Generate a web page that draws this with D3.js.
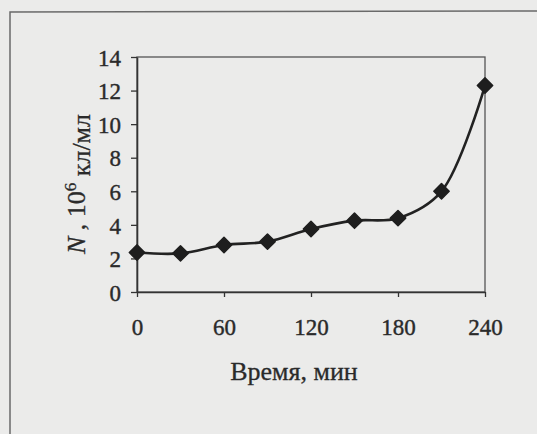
<!DOCTYPE html>
<html>
<head>
<meta charset="utf-8">
<script src="https://cdn.jsdelivr.net/npm/d3@7"></script>
<style>
    body { margin: 0; background: #ebebea; }
    #chart { width: 537px; height: 434px; }
    text { font-family: "Liberation Serif", "DejaVu Serif", serif; fill: #2a2a2a; }
</style>
</head>
<body>
<div id="chart"></div>
<script>
// время отбора проб, мин
var times = [0, 30, 60, 90, 120, 150, 180, 210, 240]
// N, 10^6 кл/мл
var counts = [2.35, 2.3, 2.8, 3.0, 3.75, 4.25, 4.4, 6.0, 12.3]
var xTicks = [0, 60, 120, 180, 240]
var yTicks = [0, 2, 4, 6, 8, 10, 12, 14]

var dom = document.getElementById("chart")
var svg = d3.select("#chart")
            .append("svg")
            .attr("width", dom.clientWidth)
            .attr("height", dom.clientHeight)

var data = times.map(function (t, i) {
    return { t: t, n: counts[i] }
})

// scan frame
svg.append("path")
   .attr("d", "M10,434 L10,12 L537,11")
   .attr("fill", "none")
   .attr("stroke", "#6a6a6a")
   .attr("stroke-width", 1.5)

var x = d3.scaleLinear().domain([0, 240]).range([137, 485])
var y = d3.scaleLinear().domain([0, 14]).range([292, 57])

// plot box
svg.append("rect")
   .attr("x", x(0))
   .attr("y", y(14))
   .attr("width", x(240) - x(0))
   .attr("height", y(0) - y(14))
   .attr("fill", "none")
   .attr("stroke", "#555")
   .attr("stroke-width", 1.3)

var xAxis = svg.append("g")
               .attr("transform", "translate(0," + y(0) + ")")
               .call(d3.axisBottom(x).tickValues(xTicks).tickSizeInner(5).tickSizeOuter(0).tickPadding(22))
var yAxis = svg.append("g")
               .attr("transform", "translate(" + x(0) + ",0)")
               .call(d3.axisLeft(y).tickValues(yTicks).tickSizeInner(6).tickSizeOuter(0).tickPadding(10))

svg.selectAll(".domain")
   .attr("stroke", "#333")
   .attr("stroke-width", 1.6)
svg.selectAll(".tick line")
   .attr("stroke", "#333")
   .attr("stroke-width", 1.3)
svg.selectAll(".tick text")
   .style("font-family", "Liberation Serif")
   .style("font-size", "23px")
   .attr("fill", "#2a2a2a")
   .attr("stroke", "#2a2a2a")
   .attr("stroke-width", 0.4)
yAxis.selectAll(".tick text").attr("dy", "0.36em")

// curve
var line = d3.line()
             .x(function (d) { return x(d.t) })
             .y(function (d) { return y(d.n) })
             .curve(d3.curveCatmullRom.alpha(0.5))

svg.append("path")
   .datum(data)
   .attr("d", line)
   .attr("fill", "none")
   .attr("stroke", "#222")
   .attr("stroke-width", 2.6)

svg.selectAll(".mark")
   .data(data)
   .enter().append("path")
   .attr("class", "mark")
   .attr("d", d3.symbol().type(d3.symbolDiamond2).size(150))
   .attr("transform", function (d) {
       return "translate(" + x(d.t) + "," + y(d.n) + ")"
   })
   .attr("fill", "#1e1e1e")
   .attr("stroke", "#1e1e1e")
   .attr("stroke-width", 1.5)
   .attr("stroke-linejoin", "round")

// axis titles
svg.append("text")
   .attr("x", 294)
   .attr("y", 380)
   .attr("text-anchor", "middle")
   .attr("stroke", "#2a2a2a")
   .attr("stroke-width", 0.3)
   .style("font-size", "26px")
   .text("Время, мин")

var yTitle = svg.append("text")
                .attr("transform", "translate(85,184) rotate(-90)")
                .attr("text-anchor", "middle")
                .attr("stroke", "#2a2a2a")
                .attr("stroke-width", 0.3)
                .style("font-size", "26px")
yTitle.append("tspan").style("font-style", "italic").text("N")
yTitle.append("tspan").text("  , 10")
yTitle.append("tspan").attr("dy", "-0.55em").style("font-size", "17px").text("6")
yTitle.append("tspan").attr("dy", "0.55em").text(" кл/мл")
</script>
</body>
</html>
